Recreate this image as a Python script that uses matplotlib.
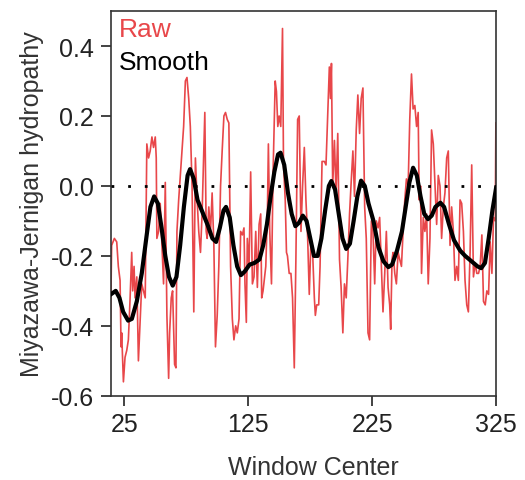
import numpy as np
import matplotlib
matplotlib.use("Agg")
import matplotlib.pyplot as plt
from matplotlib.ticker import FormatStrFormatter

plt.rcParams['font.family'] = ['Liberation Sans', 'DejaVu Sans']
plt.rcParams['axes.unicode_minus'] = False

# raw hydropathy values (window center, value)
raw_x = [13.4, 14.7, 16.9, 18.8, 20.1, 21.5, 22.3, 22.8, 24.2, 25.5, 26.9, 28.2, 29.6, 30.9,
         31.7, 32.8, 33.6, 35.0, 36.3, 39.0, 41.8, 43.1, 44.5, 45.8, 47.2, 48.5, 49.9, 50.7,
         51.2, 52.6, 53.9, 56.6, 58.0, 59.3, 60.7, 61.5, 62.8, 63.9, 65.5, 66.6, 67.4, 68.8,
         72.8, 74.2, 75.5, 76.9, 78.2, 79.6, 81.0, 82.3, 83.7, 85.0, 86.4, 87.7, 89.9, 91.0,
         91.8, 93.1, 94.5, 95.8, 97.2, 98.5, 99.9, 101.2, 102.6, 103.9, 105.3, 106.6, 108.0,
         109.3, 110.7,
         112.1, 113.4, 114.8, 116.1, 117.5, 118.8, 120.2, 121.5, 122.3, 123.4, 124.2, 125.6,
         126.9, 128.3, 129.6, 131.0, 132.3, 133.7, 135.0, 135.8, 136.9, 139.1, 140.4, 141.2,
         142.3, 143.7, 145.0, 146.7, 147.7, 148.8, 149.9, 151.2, 152.6, 153.4, 154.8, 155.8,
         156.6, 158.0, 159.4, 160.7, 162.1, 163.4, 164.8, 166.1, 167.5, 168.8, 170.2, 171.5,
         172.9, 174.2, 175.6, 176.9, 178.3, 179.1, 180.2, 181.8, 182.9, 184.5, 186.4, 187.7,
         189.1, 190.4, 191.3, 192.1, 193.1, 194.5, 195.8, 197.2, 198.6, 199.9, 201.3, 202.6,
         204.0, 205.3, 206.7, 208.0, 209.4, 210.7, 212.1, 213.4, 214.8, 216.1, 217.5, 218.9,
         220.2, 221.6, 222.9, 224.3, 225.6, 227.0, 228.3, 229.7, 231.0, 232.4, 233.7, 235.1,
         236.4, 237.8, 239.1, 239.9, 241.0, 241.8, 243.2, 244.5, 245.9, 247.2, 248.6, 249.9,
         251.3, 252.6, 254.0, 255.3, 256.7, 258.0, 259.4, 260.8, 262.1, 262.9, 264.0, 264.8,
         266.2, 267.5, 268.9, 270.2, 271.6, 272.9, 274.3, 275.6, 277.0, 278.3, 279.7, 281.0,
         282.4, 283.7, 285.1, 286.4, 287.8, 289.1, 290.5, 291.8, 293.2, 294.5, 295.9, 297.2,
         298.6, 299.9, 301.3, 302.6, 304.0, 305.3, 306.7, 308.1, 309.4, 310.8, 312.1, 313.5,
         314.8, 316.2, 317.5, 318.9, 320.2, 321.6, 322.9, 324.3, 324.8]
raw_y = [-0.49, -0.17, -0.15, -0.16, -0.23, -0.27, -0.46, -0.42, -0.56, -0.49, -0.47, -0.44, -0.32, -0.19,
         -0.30, -0.23, -0.32, -0.26, -0.50, -0.28, -0.32, 0.12, 0.08, 0.10, 0.14, 0.11, 0.14, 0.08,
         -0.15, -0.13, -0.05, -0.28, 0.01, -0.37, -0.55, -0.42, -0.32, -0.30, -0.51, -0.52, -0.13, -0.04,
         0.17, 0.30, 0.31, 0.25, 0.17, 0.00, -0.36, 0.08, -0.04, -0.13, -0.19, -0.08, 0.21, -0.13,
         -0.15, -0.06, -0.13, -0.02, -0.17, -0.46, -0.37, -0.23, 0.00, 0.10, 0.20, 0.21, 0.19,
         0.18, -0.23,
         -0.38, -0.44, -0.40, -0.42, -0.38, -0.13, -0.14, -0.12, -0.28, -0.39, -0.15, -0.23,
         0.04, -0.28, -0.26, -0.13, -0.29, -0.11, -0.08, -0.32, -0.30, -0.23, -0.08, 0.12,
         -0.13, -0.28, 0.04, 0.30, 0.27, 0.17, 0.20, 0.17, 0.45, 0.06, -0.04, -0.19,
         -0.20, -0.25, -0.25, -0.32, -0.52, -0.21, 0.19, 0.20, -0.13, 0.00, 0.11, -0.04,
         -0.15, -0.31, -0.15, -0.19, -0.32, -0.37, -0.34, -0.34, -0.23, 0.07, 0.07, 0.06,
         0.21, 0.34, 0.25, 0.35, 0.00, 0.13, -0.02, 0.15, -0.21, -0.29, -0.42, -0.28,
         -0.32, -0.21, -0.08, 0.01, 0.10, -0.03, 0.16, 0.26, 0.15, 0.25, 0.28, -0.06,
         -0.15, -0.42, -0.44, -0.10, -0.13, -0.28, -0.10, -0.12, -0.09, -0.23, -0.36, -0.25,
         -0.13, -0.29, -0.34, -0.41, -0.21, -0.19, -0.25, -0.28, -0.19, -0.21, -0.23, -0.13,
         -0.04, 0.02, 0.00, 0.19, 0.32, 0.22, 0.23, 0.17, 0.21, -0.04, 0.00, -0.25,
         -0.09, -0.13, -0.08, -0.28, -0.15, 0.16, 0.12, 0.01, -0.11, 0.03, 0.00, -0.15,
         -0.06, -0.02, 0.08, 0.10, -0.17, -0.06, -0.13, -0.27, -0.23, -0.27, -0.04, -0.05,
         -0.13, -0.27, -0.34, -0.36, -0.19, 0.06, -0.26, -0.22, -0.25, -0.25, -0.23, -0.14,
         -0.33, -0.34, -0.30, -0.31, -0.16, -0.25, -0.09, -0.10, 0.18]

# smoothed curve
smooth_x = [14, 18, 21, 24, 28, 31, 35, 39, 43, 46, 49, 52, 55, 58, 61, 64, 67, 70, 73, 76,
            78, 81, 84, 88, 92, 96, 99, 102, 105, 107, 110, 113, 116, 119, 122, 126, 130, 134,
            137, 140, 143, 146, 149, 151, 154, 157, 160, 163, 166, 169, 172, 175, 178, 181,
            184, 187, 190, 192, 195, 198, 201, 204, 207, 210, 213, 216, 219, 222, 226, 230,
            234, 238, 241, 245, 249, 252, 255, 258, 261, 264, 267, 270, 273, 276, 280, 283,
            287, 291, 296, 300, 305, 310, 313, 316, 319, 322, 325]
smooth_y = [-0.31, -0.30, -0.32, -0.36, -0.385, -0.38, -0.33, -0.25, -0.14, -0.06, -0.03, -0.05,
            -0.12, -0.20, -0.26, -0.285, -0.26, -0.17, -0.06, 0.03, 0.048, 0.02, -0.04, -0.075,
            -0.11, -0.15, -0.16, -0.12, -0.07, -0.06, -0.09, -0.17, -0.23, -0.255, -0.245,
            -0.225, -0.22, -0.21, -0.17, -0.11, -0.03, 0.04, 0.09, 0.095, 0.06, -0.02, -0.08,
            -0.115, -0.105, -0.085, -0.10, -0.15, -0.20, -0.20, -0.15, -0.07, 0.0, 0.014,
            -0.01, -0.08, -0.15, -0.18, -0.165, -0.10, -0.03, 0.015, 0.0, -0.05, -0.10, -0.175,
            -0.215, -0.232, -0.225, -0.185, -0.13, -0.06, 0.01, 0.052, 0.03, -0.03, -0.08,
            -0.095, -0.085, -0.06, -0.048, -0.06, -0.11, -0.155, -0.185, -0.20, -0.215, -0.23,
            -0.235, -0.22, -0.15, -0.07, -0.005]

x_ticks = [25, 125, 225, 325]
y_ticks = [-0.6, -0.4, -0.2, 0.0, 0.2, 0.4]

fig = plt.figure(figsize=(5.25, 4.81), dpi=100)
ax = fig.add_axes([0.211, 0.175, 0.734, 0.80])

ax.plot(raw_x, raw_y, color='#e8474a', lw=1.2, zorder=2)
ax.axhline(0, color='black', lw=2, linestyle=(0, (1, 5)), zorder=3)
ax.plot(smooth_x, smooth_y, color='black', lw=3.0, zorder=4)

ax.set_xlim(14, 325)
ax.set_ylim(-0.6, 0.5)
ax.set_xticks(x_ticks)
ax.set_yticks(y_ticks)
ax.yaxis.set_major_formatter(FormatStrFormatter('%.1f'))
ax.tick_params(direction='out', length=7, width=1.2, labelsize=18, colors='#222222', pad=5)
for s in ax.spines.values():
    s.set_linewidth(1.2)
    s.set_color('#333333')

ax.set_xlabel('Window Center', fontsize=18, color='#333333')
ax.xaxis.set_label_coords(0.525, -0.155)
ax.set_ylabel('Miyazawa-Jernigan hydropathy', fontsize=18, color='#333333', labelpad=5)

ax.text(0.02, 0.985, 'Raw', transform=ax.transAxes, color='#e8474a', fontsize=19,
        va='top', ha='left')
ax.text(0.02, 0.90, 'Smooth', transform=ax.transAxes, color='black', fontsize=19,
        va='top', ha='left')

plt.savefig('out.png', dpi=100)
